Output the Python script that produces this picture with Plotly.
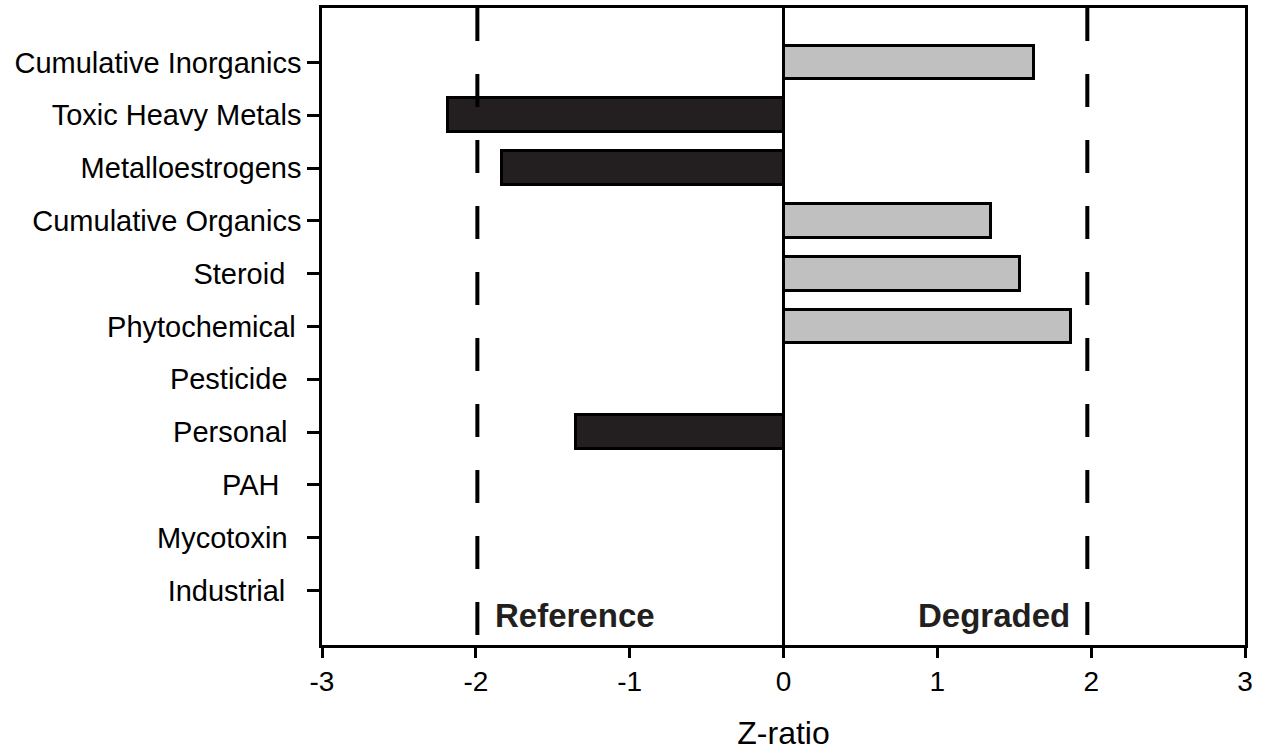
import plotly.graph_objects as go

# ---- data (bottom to top) ----
categories = ["Industrial", "Mycotoxin", "PAH", "Personal", "Pesticide",
              "Phytochemical", "Steroid", "Cumulative Organics",
              "Metalloestrogens", "Toxic Heavy Metals", "Cumulative Inorganics"]
z_ratio = [0, 0, 0, -1.35, 0, 1.87, 1.54, 1.35, -1.83, -2.18, 1.63]
tick_labels = ["Industrial\u00a0\u00a0", "Mycotoxin\u00a0\u2009", "PAH\u00a0\u00a0\u2009",
               "Personal\u00a0\u2009", "Pesticide\u00a0\u2009", "Phytochemical\u2009",
               "Steroid\u00a0\u00a0", "Cumulative Organics", "Metalloestrogens",
               "Toxic Heavy Metals", "Cumulative Inorganics"]
x_ticks = [-3, -2, -1, 0, 1, 2, 3]
threshold_low = -1.99
threshold_high = 1.975

DARK = "#231f20"
LIGHT = "#c0c0c0"
colors = [DARK if v < 0 else LIGHT for v in z_ratio]

FONT = "Liberation Sans, Arial, sans-serif"

fig = go.Figure()
fig.add_trace(go.Bar(
    y=categories, x=z_ratio, orientation="h", base=0,
    width=0.64,
    marker=dict(color=colors, line=dict(color="black", width=3)),
    showlegend=False, hoverinfo="x+y",
))

for xv in (threshold_low, threshold_high):
    fig.add_shape(type="line", xref="x", yref="paper",
                  x0=xv, x1=xv, y0=1, y1=0,
                  line=dict(color="black", width=4, dash="33px,33px"),
                  layer="above")

fig.add_annotation(x=-1.89, y=-0.47, xref="x", yref="y", text="<b>Reference</b>",
                   showarrow=False, xanchor="left", yanchor="middle",
                   font=dict(family=FONT, size=33, color="#231f20"))
fig.add_annotation(x=1.875, y=-0.47, xref="x", yref="y", text="<b>Degraded</b>",
                   showarrow=False, xanchor="right", yanchor="middle",
                   font=dict(family=FONT, size=33, color="#231f20"))

fig.update_layout(
    width=1268, height=751,
    margin=dict(l=322, r=23, t=5, b=103, pad=0),
    paper_bgcolor="white", plot_bgcolor="white",
    font=dict(family=FONT, color="black"),
    bargap=0,
)
fig.update_xaxes(
    range=[-3, 3], tickvals=x_ticks, ticktext=[str(v) for v in x_ticks],
    ticks="outside", ticklen=10, tickwidth=2.5, tickcolor="black",
    showline=True, linecolor="black", linewidth=2.5, mirror=True,
    showgrid=False, zeroline=True, zerolinecolor="black", zerolinewidth=2.5,
    tickfont=dict(size=28, family=FONT, color="black"),
    title=dict(text="Z-ratio", font=dict(size=32, family=FONT, color="black"), standoff=26),
)
fig.update_yaxes(
    type="category", categoryorder="array", categoryarray=categories,
    tickvals=categories, ticktext=tick_labels,
    range=[-1.03, 11.03],
    ticks="outside", ticklen=12, tickwidth=2.5, tickcolor="black",
    showline=True, linecolor="black", linewidth=2.5, mirror=True,
    showgrid=False, zeroline=False,
    tickfont=dict(size=29, family=FONT, color="black"),
)

fig.write_html("out.html", config={"displayModeBar": False},
               post_script="document.body.style.margin='0';document.body.style.overflow='hidden';")
